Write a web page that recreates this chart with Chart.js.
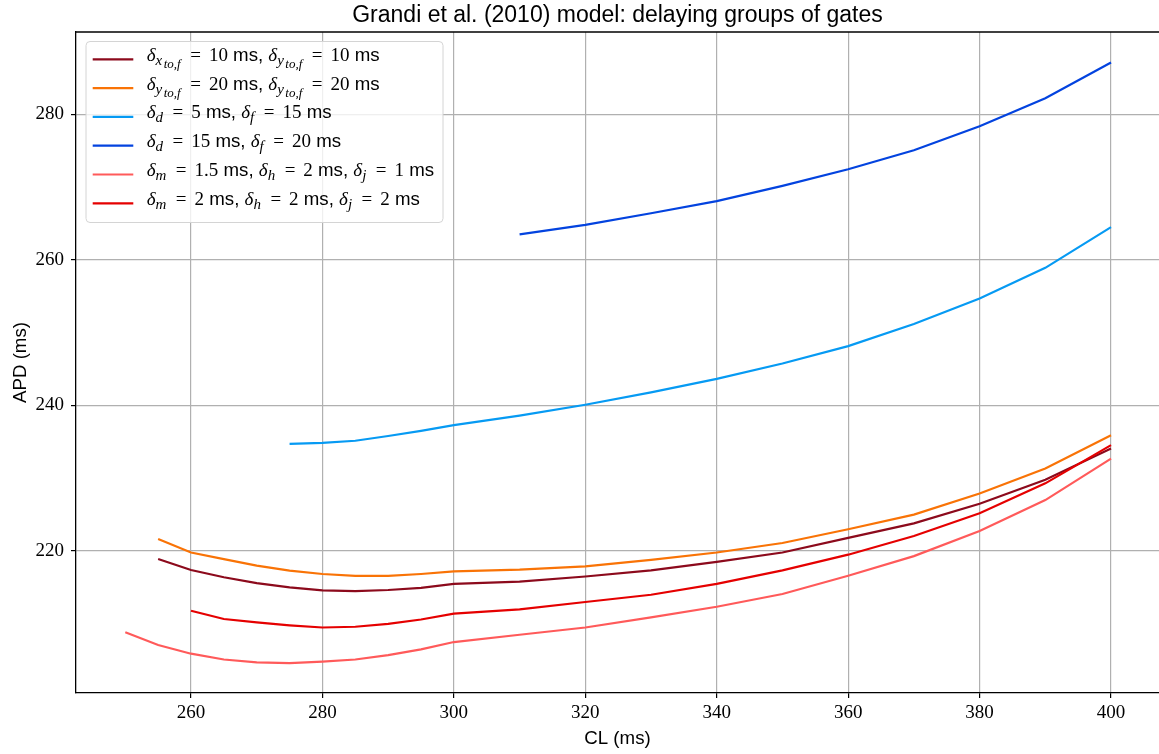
<!DOCTYPE html>
<html>
<head>
<meta charset="utf-8">
<script src="https://cdn.jsdelivr.net/npm/chart.js@4.4.1/dist/chart.umd.min.js"></script>
<style>
  html, body { margin: 0; padding: 0; background: #fff; }
  canvas { display: block; }
</style>
</head>
<body>
<canvas id="apd" width="1159" height="754"></canvas>
<script>
// pacing cycle lengths (ms); null = run not done at that CL
const cl = [250, 255, 260, 265, 270, 275, 280, 285, 290, 295, 300,
            310, 320, 330, 340, 350, 360, 370, 380, 390, 400];

// APD (ms) for each group of delayed gates
const apdXtoYto10 = [null, 218.9, 217.4, 216.4, 215.6, 215.0, 214.6, 214.5, 214.65, 214.95, 215.5,
                     215.8, 216.5, 217.35, 218.5, 219.8, 221.8, 223.8, 226.5, 229.8, 234.1];
const apdYto20    = [null, 221.65, 219.8, 218.9, 218.0, 217.3, 216.85, 216.6, 216.6, 216.85, 217.2,
                     217.45, 217.9, 218.8, 219.8, 221.1, 223.0, 225.0, 227.9, 231.35, 235.9];
const apdD5F15    = [null, null, null, null, null, 234.73, 234.87, 235.15, 235.8, 236.5, 237.3,
                     238.6, 240.1, 241.8, 243.66, 245.77, 248.15, 251.2, 254.7, 258.9, 264.5];
const apdD15F20   = [null, null, null, null, null, null, null, null, null, null, null,
                     263.49, 264.8, 266.4, 268.06, 270.16, 272.45, 275.06, 278.35, 282.2, 287.1];
const apdMhj1     = [208.84, 207.1, 205.9, 205.1, 204.7, 204.6, 204.8, 205.1, 205.7, 206.5, 207.5,
                     208.5, 209.5, 210.9, 212.35, 214.1, 216.6, 219.3, 222.75, 227.0, 232.7];
const apdMhj2     = [null, null, 211.8, 210.66, 210.2, 209.8, 209.5, 209.6, 210.0, 210.6, 211.4,
                     212.0, 213.0, 214.0, 215.5, 217.35, 219.5, 222.06, 225.2, 229.3, 234.55];

const seriesValues = [apdXtoYto10, apdYto20, apdD5F15, apdD15F20, apdMhj1, apdMhj2];
const seriesColors = ['#8c0a1c', '#f97306', '#069af3', '#0343df', '#ff5a5a', '#e50000'];

// legend text as runs: i = math italic, s = subscript, ss = sub-subscript,
// r = upright math, t = plain text
const legendLabels = [
  [['i', 'δ'], ['s', 'x'], ['ss', 'to,f'], ['r', ' = 10'], ['t', ' ms, '],
   ['i', 'δ'], ['s', 'y'], ['ss', 'to,f'], ['r', ' = 10'], ['t', ' ms']],
  [['i', 'δ'], ['s', 'y'], ['ss', 'to,f'], ['r', ' = 20'], ['t', ' ms, '],
   ['i', 'δ'], ['s', 'y'], ['ss', 'to,f'], ['r', ' = 20'], ['t', ' ms']],
  [['i', 'δ'], ['s', 'd'], ['r', ' = 5'], ['t', ' ms, '],
   ['i', 'δ'], ['s', 'f'], ['r', ' = 15'], ['t', ' ms']],
  [['i', 'δ'], ['s', 'd'], ['r', ' = 15'], ['t', ' ms, '],
   ['i', 'δ'], ['s', 'f'], ['r', ' = 20'], ['t', ' ms']],
  [['i', 'δ'], ['s', 'm'], ['r', ' = 1.5'], ['t', ' ms, '],
   ['i', 'δ'], ['s', 'h'], ['r', ' = 2'], ['t', ' ms, '],
   ['i', 'δ'], ['s', 'j'], ['r', ' = 1'], ['t', ' ms']],
  [['i', 'δ'], ['s', 'm'], ['r', ' = 2'], ['t', ' ms, '],
   ['i', 'δ'], ['s', 'h'], ['r', ' = 2'], ['t', ' ms, '],
   ['i', 'δ'], ['s', 'j'], ['r', ' = 2'], ['t', ' ms']]
];

const titleText = 'Grandi et al. (2010) model: delaying groups of gates';

const runStyles = {
  i:  { font: 'italic 19px "Liberation Serif"', dy: 0, after: 0 },
  s:  { font: 'italic 15px "Liberation Serif"', dy: 4, after: 1.5 },
  ss: { font: 'italic 13px "Liberation Serif"', dy: 7, after: 1.5 },
  r:  { font: '19px "Liberation Serif"', dy: 0, after: 0 },
  t:  { font: '18.7px "Liberation Sans"', dy: 0, after: 0 }
};
const mathSpace = 8; // gap around "=" in math runs

function drawRuns(ctx, runs, x, y) {
  ctx.textAlign = 'left';
  ctx.textBaseline = 'alphabetic';
  for (const [kind, text] of runs) {
    const st = runStyles[kind];
    ctx.font = st.font;
    if (kind === 'r') {
      // math spacing: each blank becomes a fixed gap
      text.split(' ').forEach((tok, k) => {
        if (k > 0) x += mathSpace;
        ctx.fillText(tok, x, y + st.dy);
        x += ctx.measureText(tok).width;
      });
    } else {
      ctx.fillText(text, x, y + st.dy);
      x += ctx.measureText(text).width;
    }
    x += st.after;
  }
}

// title, top spine and the framed legend
const decorations = {
  id: 'decorations',
  afterDatasetsDraw(chart) {
    const { ctx, chartArea: a } = chart;
    ctx.save();
    ctx.strokeStyle = '#000';
    ctx.lineWidth = 1.3;
    ctx.beginPath();
    ctx.moveTo(a.left, a.top);
    ctx.lineTo(a.right, a.top);
    ctx.stroke();
    ctx.restore();
  },
  afterDraw(chart) {
    const { ctx, chartArea: a } = chart;
    ctx.save();
    ctx.fillStyle = '#000';
    ctx.font = '23px "Liberation Sans"';
    ctx.textAlign = 'center';
    ctx.textBaseline = 'alphabetic';
    ctx.fillText(titleText, (a.left + a.right) / 2, 22);

    // legend frame
    const bx = 86, by = 41.5, bw = 357, bh = 181;
    ctx.beginPath();
    ctx.roundRect(bx, by, bw, bh, 4);
    ctx.fillStyle = 'rgba(255,255,255,0.8)';
    ctx.fill();
    ctx.strokeStyle = '#d4d4d4';
    ctx.lineWidth = 1;
    ctx.stroke();

    legendLabels.forEach((runs, i) => {
      const rowY = 59.3 + i * 28.8;
      ctx.strokeStyle = seriesColors[i];
      ctx.lineWidth = 2.2;
      ctx.beginPath();
      ctx.moveTo(92.7, rowY);
      ctx.lineTo(133.3, rowY);
      ctx.stroke();
      ctx.fillStyle = '#000';
      drawRuns(ctx, runs, 146.7, rowY + 1.5);
    });
    ctx.restore();
  }
};

const datasets = seriesValues.map((vals, i) => ({
  data: cl.map((x, k) => ({ x, y: vals[k] })).filter(p => p.y !== null),
  borderColor: seriesColors[i],
  borderWidth: 2.2,
  pointRadius: 0,
  fill: false,
  tension: 0,
  order: seriesValues.length - i
}));

const tickFont = { family: 'Liberation Serif', size: 19 };
const labelFont = { family: 'Liberation Sans', size: 18.7 };
const gridOpts = { color: '#b0b0b0', lineWidth: 1.2, tickColor: '#000', tickLength: 5, tickWidth: 1.2 };

new Chart(document.getElementById('apd'), {
  type: 'line',
  data: { datasets },
  options: {
    responsive: false,
    animation: false,
    devicePixelRatio: 1,
    layout: { padding: { top: 32, right: 0, left: 0, bottom: 0 } },
    plugins: { legend: { display: false }, tooltip: { enabled: false } },
    scales: {
      x: {
        type: 'linear',
        min: 242.5,
        max: 407.3,
        ticks: { stepSize: 20, includeBounds: false, font: tickFont, color: '#000', padding: 4 },
        grid: gridOpts,
        border: { color: '#000', width: 1.3 },
        title: { display: true, text: 'CL (ms)', font: labelFont, color: '#000', padding: { top: 0, bottom: 4 } },
        afterFit(scale) { scale.height = 61; }
      },
      y: {
        type: 'linear',
        min: 200.5,
        max: 291.3,
        ticks: { stepSize: 20, includeBounds: false, font: tickFont, color: '#000', padding: 7 },
        grid: gridOpts,
        border: { color: '#000', width: 1.3 },
        title: { display: true, text: 'APD (ms)', font: labelFont, color: '#000', padding: { top: 10, bottom: 0 } },
        afterFit(scale) { scale.width = 76; }
      }
    }
  },
  plugins: [decorations]
});
</script>
</body>
</html>
